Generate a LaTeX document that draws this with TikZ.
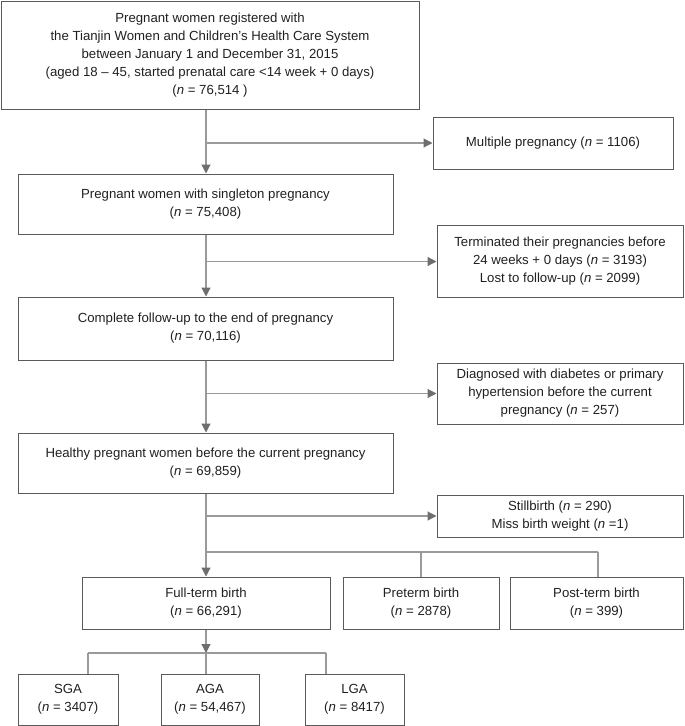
\documentclass[tikz,border=0pt]{standalone}
\usepackage{fontspec}
\setmainfont{Liberation Sans}
\usetikzlibrary{arrows.meta}
\definecolor{boxc}{HTML}{5A5A5A}
\definecolor{linec}{HTML}{9A9A9A}
\definecolor{tipc}{HTML}{6E6E6E}
\definecolor{txtc}{HTML}{231F20}
\begin{document}
\begin{tikzpicture}[x=1pt,y=-1pt,
  bx/.style={draw=boxc, line width=1pt, inner sep=0pt, align=center, text=txtc,
    font=\fontsize{13.2}{18}\selectfont},
  conn/.style={draw=linec, line width=1.2pt},
  arr/.style={conn, -{Triangle[length=9pt,width=9pt,color=tipc]}}]
\useasboundingbox (0,0) rectangle (685,726);
% boxes
\node[bx, minimum width=418pt, minimum height=108pt] (top) at (210,55)
  {Pregnant women registered with\\the Tianjin Women and Children’s Health Care System\\between January 1 and December 31, 2015\\(aged 18 – 45, started prenatal care <14 week + 0 days)\\(\textit{n} = 76,514 )};
\node[bx, minimum width=240pt, minimum height=52pt] (multi) at (553,143)
  {Multiple pregnancy (\textit{n} = 1106)};
\node[bx, minimum width=375pt, minimum height=60pt] (b2) at (205.5,204)
  {Pregnant women with singleton pregnancy\\(\textit{n} = 75,408)};
\node[bx, minimum width=246pt, minimum height=72pt] (term) at (560,261.5)
  {Terminated their pregnancies before\\24 weeks + 0 days (\textit{n} = 3193)\\Lost to follow-up (\textit{n} = 2099)};
\node[bx, minimum width=375pt, minimum height=63pt] (b3) at (205.5,328.5)
  {Complete follow-up to the end of pregnancy\\(\textit{n} = 70,116)};
\node[bx, minimum width=246pt, minimum height=61pt] (diag) at (560,393.5)
  {Diagnosed with diabetes or primary\\hypertension before the current\\pregnancy (\textit{n} = 257)};
\node[bx, minimum width=375pt, minimum height=60pt] (b4) at (205.5,463)
  {Healthy pregnant women before the current pregnancy\\(\textit{n} = 69,859)};
\node[bx, minimum width=246pt, minimum height=42pt] (still) at (560,516)
  {Stillbirth (\textit{n} = 290)\\Miss birth weight (\textit{n} =1)};
\node[bx, minimum width=248pt, minimum height=52pt] (full) at (206,603)
  {Full-term birth\\(\textit{n} = 66,291)};
\node[bx, minimum width=156pt, minimum height=52pt] (pre) at (421,603)
  {Preterm birth\\(\textit{n} = 2878)};
\node[bx, minimum width=173pt, minimum height=52pt] (post) at (596.5,603)
  {Post-term birth\\(\textit{n} = 399)};
\node[bx, minimum width=100pt, minimum height=51pt] (sga) at (68,699.5)
  {SGA\\(\textit{n} = 3407)};
\node[bx, minimum width=98pt, minimum height=51pt] (aga) at (210,699.5)
  {AGA\\(\textit{n} = 54,467)};
\node[bx, minimum width=99pt, minimum height=51pt] (lga) at (354.5,699.5)
  {LGA\\(\textit{n} = 8417)};
% spine and junctions
\coordinate (sp) at (206,0);
\coordinate (j1) at (206,143);
\coordinate (j2) at (206,261.5);
\coordinate (j3) at (206,393.5);
\coordinate (j4) at (206,516);
\coordinate (j5) at (206,552);
\coordinate (k1) at (421,552);
\coordinate (k2) at (598,552);
\coordinate (m0) at (206,653);
\coordinate (m1) at (88,653);
\coordinate (m3) at (326,653);
% connectors
\draw[arr] (top.south -| sp) -- (b2.north -| sp);
\draw[arr] (j1) -- (multi.west);
\draw[arr] (b2.south -| sp) -- (b3.north -| sp);
\draw[arr] (j2) -- (term.west);
\draw[arr] (b3.south -| sp) -- (b4.north -| sp);
\draw[arr] (j3) -- (diag.west);
\draw[arr] (b4.south -| sp) -- (full.north -| sp);
\draw[arr] (j4) -- (still.west);
\draw[conn] (j5) -- (k2);
\draw[conn] (k1) -- (pre.north -| k1);
\draw[conn] (k2) -- (post.north -| k2);
\draw[conn] (m1) -- (m3);
\draw[conn] (m1) -- (sga.north -| m1);
\draw[conn] (m0) -- (aga.north -| m0);
\draw[conn] (m3) -- (lga.north -| m3);
\draw[arr] (full.south -| sp) -- (m0);
\end{tikzpicture}
\end{document}
